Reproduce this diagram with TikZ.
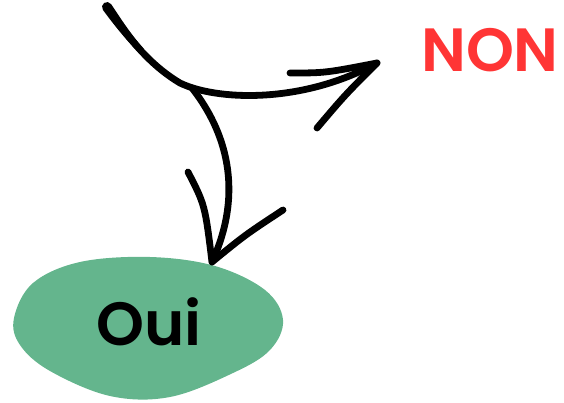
\documentclass[tikz,border=0pt]{standalone}
\usepackage{fontspec}
\setmainfont{Poppins}[BoldFont={Poppins SemiBold}]
\definecolor{blobgreen}{HTML}{64B58D}
\definecolor{nonred}{HTML}{FF3535}
\begin{document}
\begin{tikzpicture}[x=1pt,y=-1pt,
    stroke/.style={line width=6.8pt, line cap=round, line join=round},
    label/.style={font=\bfseries\fontsize{61}{61}\selectfont, inner sep=0pt}]
      \useasboundingbox (0,0) rectangle (564,403);
      %%%%%%%%%%%%%%%%%%%%%%%%%%%%%%%%%%%%%%%%%%%%%%%
      \fill[blobgreen] plot[smooth cycle, tension=0.6] coordinates {(14,318) (33,283) (80,262) (150,257) (215,266) (265,290) (283,320) (270,350) (233,373) (170,397) (110,396) (50,371) (20,345)};
      \node[label] at (149,322) (oui) {Oui};
      \node[label, text=nonred] at (490,50) (non) {NON};
      %%%%%%%%%%%%%%%%%%%%%%%%%%%%%%%%%%%%%%%%%%%%%%%
      \coordinate (start) at (107,7);
      \coordinate (split) at (180,83);
      \coordinate (fork) at (192,88);
      \coordinate (nontip) at (377,63);
      \coordinate (ouitip) at (212,262);
      \draw[stroke] (start) .. controls (130,40) and (150,65) .. (split)
                    .. controls (215,100) and (300,105) .. (nontip);
      % thicker start of the stroke
      \fill (111.1,4.1) .. controls (122.2,20.9) and (131.9,35.6) .. (143.5,48.4)
            -- (138.7,52.8) .. controls (126.6,40.4) and (114.8,26.1) .. (102.9,9.9)
            arc[start angle=145, end angle=325, radius=5] -- cycle;
      \draw[stroke] (fork) .. controls (225,130) and (245,190) .. (ouitip);
      %%%%%%%%%%%%%%%%%%%%%%%%%%%%%%%%%%%%%%%%%%%%%%%
      \draw[stroke] (290,73) .. controls (325,73) .. (nontip)
                    (317,128) .. controls (345,95) .. (nontip);
      \draw[stroke] (188,172) .. controls (205,205) .. (ouitip)
                    (283,210) .. controls (245,235) .. (ouitip);
    \end{tikzpicture}
\end{document}
